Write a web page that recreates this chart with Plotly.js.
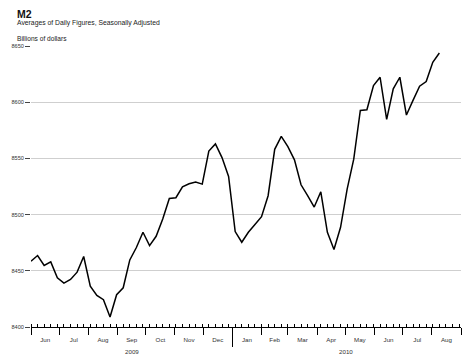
<!DOCTYPE html>
<html>
<head>
<meta charset="utf-8">
<script src="https://cdn.plot.ly/plotly-3.0.1.min.js"></script>
<style>html,body{margin:0;padding:0;background:#fff;}#chart{width:474px;height:361px;}</style>
</head>
<body>
<div id="chart"></div>
<script>
var weeks = [
  '2009-06-01','2009-06-08','2009-06-15','2009-06-22','2009-06-29',
  '2009-07-06','2009-07-13','2009-07-20','2009-07-27',
  '2009-08-03','2009-08-10','2009-08-17','2009-08-24','2009-08-31',
  '2009-09-07','2009-09-14','2009-09-21','2009-09-28',
  '2009-10-05','2009-10-12','2009-10-19','2009-10-26',
  '2009-11-02','2009-11-09','2009-11-16','2009-11-23','2009-11-30',
  '2009-12-07','2009-12-14','2009-12-21','2009-12-28',
  '2010-01-04','2010-01-11','2010-01-18','2010-01-25',
  '2010-02-01','2010-02-08','2010-02-15','2010-02-22',
  '2010-03-01','2010-03-08','2010-03-15','2010-03-22','2010-03-29',
  '2010-04-05','2010-04-12','2010-04-19','2010-04-26',
  '2010-05-03','2010-05-10','2010-05-17','2010-05-24','2010-05-31',
  '2010-06-07','2010-06-14','2010-06-21','2010-06-28',
  '2010-07-05','2010-07-12','2010-07-19','2010-07-26',
  '2010-08-02','2010-08-09'
];
var m2 = [
  8458.6, 8463.6, 8454.7, 8457.9, 8443.8,
  8439.1, 8442.3, 8448.8, 8462.7,
  8436.4, 8428.1, 8424.3, 8408.9, 8428.7,
  8434.9, 8459.7, 8470.7, 8484.3,
  8472.4, 8480.7, 8496.1, 8514.4,
  8515.0, 8524.7, 8527.4, 8528.9, 8527.1,
  8556.6, 8562.9, 8550.7, 8533.9,
  8484.9, 8475.4, 8484.3, 8491.1,
  8498.2, 8516.8, 8558.1, 8569.6,
  8560.5, 8548.7, 8526.5, 8516.8, 8506.7,
  8520.3, 8484.3, 8468.9, 8488.7,
  8522.7, 8549.3, 8592.7, 8593.3, 8614.8,
  8622.2, 8584.7, 8611.9, 8622.2,
  8588.6, 8601.6, 8614.3, 8618.4,
  8635.5, 8643.8
];
var yTicks = [8400, 8450, 8500, 8550, 8600, 8650];
var years = ['2009', '2010'];
var yearBreak = '2010-01-01';
var xStart = '2009-06-01', xEnd = '2010-09-01';

function mid(a, b) {
  var t = (Date.parse(a) + Date.parse(b)) / 2;
  return new Date(t).toISOString().slice(0, 10);
}
var yearMids = [mid(xStart, yearBreak), mid(yearBreak, xEnd)];

var FONT = 'Liberation Sans, Arial, sans-serif';
var WEEK = 7 * 86400000;

var data = [{
  x: weeks, y: m2, type: 'scatter', mode: 'lines',
  line: {color: '#000', width: 1.5}, hoverinfo: 'x+y'
}, {
  x: [xStart], y: [8400], xaxis: 'x2', type: 'scatter', mode: 'markers',
  marker: {opacity: 0}, hoverinfo: 'skip', showlegend: false
}];

var layout = {
  width: 474, height: 361,
  margin: {l: 31, r: 13, t: 46, b: 34, pad: 0},
  paper_bgcolor: '#fff', plot_bgcolor: '#fff',
  showlegend: false,
  font: {family: FONT, size: 6, color: '#333'},
  xaxis: {
    type: 'date', range: [xStart, xEnd], fixedrange: true,
    showgrid: false, zeroline: false,
    showline: true, linecolor: '#000', linewidth: 1,
    ticks: 'outside', ticklen: 7, tickwidth: 1, tickcolor: '#000',
    dtick: 'M1', tick0: '2009-01-01', tickformat: '%b',
    ticklabelmode: 'period',
    tickfont: {family: FONT, size: 6.2, color: '#333'},
    minor: {ticks: 'inside', ticklen: 3, tickwidth: 1, tickcolor: '#000', dtick: WEEK, tick0: '2009-06-01', showgrid: false}
  },
  xaxis2: {
    type: 'date', range: [xStart, xEnd], overlaying: 'x', anchor: 'y', fixedrange: true,
    showgrid: false, zeroline: false, showline: false,
    tickmode: 'array', tickvals: [yearBreak], ticktext: [''],
    ticks: 'outside', ticklen: 19, tickwidth: 1, tickcolor: '#000', showticklabels: false
  },
  yaxis: {
    range: [8400, 8650], fixedrange: true,
    tickmode: 'array', tickvals: yTicks, ticktext: yTicks.map(String),
    showgrid: true, gridcolor: '#cfcfcf', gridwidth: 1,
    zeroline: false, showline: false,
    ticks: 'outside', ticklen: 5, tickwidth: 1, tickcolor: '#444',
    tickfont: {family: FONT, size: 5.6, color: '#333'}
  },
  annotations: []
};

var plotH = 361 - 46 - 34, plotW = 474 - 31 - 13;
function py(pix) { return (361 - 34 - pix) / plotH; }
function px(pix) { return (pix - 31) / plotW; }

layout.annotations.push(
  {text: '<b>M2</b>', xref: 'paper', yref: 'paper', x: px(15), y: py(13.5), xanchor: 'left', yanchor: 'middle',
   showarrow: false, font: {family: FONT, size: 10.5, color: '#111'}},
  {text: 'Averages of Daily Figures, Seasonally Adjusted', xref: 'paper', yref: 'paper', x: px(15), y: py(23.5),
   xanchor: 'left', yanchor: 'middle', showarrow: false, font: {family: FONT, size: 6.8, color: '#222'}},
  {text: 'Billions of dollars', xref: 'paper', yref: 'paper', x: px(15), y: py(38), xanchor: 'left', yanchor: 'middle',
   showarrow: false, font: {family: FONT, size: 6.6, color: '#222'}}
);
for (var i = 0; i < years.length; i++) {
  layout.annotations.push({text: years[i], xref: 'x', yref: 'paper', x: yearMids[i], y: py(351.5),
    xanchor: 'center', yanchor: 'middle', showarrow: false, font: {family: FONT, size: 6.2, color: '#333'}});
}

Plotly.newPlot('chart', data, layout, {displayModeBar: false, staticPlot: true});
</script>
</body>
</html>
